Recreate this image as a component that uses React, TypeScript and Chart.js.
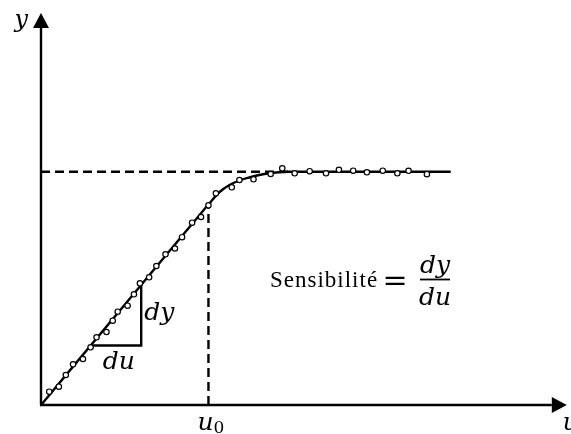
import { useEffect, useRef } from "react";
import { Chart, registerables } from "chart.js";

Chart.register(...registerables);

const WIDTH = 571;
const HEIGHT = 434;

// Measured samples of the output y against the input u
const sampleU = [0.83, 1.8, 2.5, 3.23, 4.23, 5.0, 5.6, 6.6, 7.23, 7.73, 8.73, 9.37, 9.97, 10.9, 11.63, 12.55, 13.5, 14.22, 15.23, 16.13, 16.88, 17.63, 19.23, 20.0, 21.42, 23.15, 24.32, 25.57, 27.08, 28.73, 30.03, 31.47, 32.85, 34.45, 35.92, 37.05, 38.9];
const sampleY = [1.33, 1.83, 3.0, 4.07, 4.6, 5.77, 6.77, 7.3, 8.43, 9.33, 9.93, 11.07, 12.17, 12.77, 13.9, 15.07, 15.65, 16.78, 18.23, 18.8, 19.97, 21.17, 21.77, 22.5, 22.57, 23.1, 23.67, 23.17, 23.38, 23.17, 23.52, 23.43, 23.27, 23.43, 23.17, 23.42, 23.08];

// Fitted characteristic: linear zone, then saturation
const curveU = [0, 8.5, 15.5, 17.0, 18.0, 19.0, 20.0, 21.0, 22.0, 23.0, 24.0, 25.0, 41.3];
const curveY = [0, 10.1, 18.42, 20.2, 21.3, 22.0, 22.45, 22.75, 23.0, 23.18, 23.28, 23.33, 23.33];

// Saturation level and operating point
const saturationY = 23.33;
const saturationEndU = 25;
const operatingU = [16.88, 16.88];
const operatingY = [0, 19.97];

// Slope triangle (du, dy)
const triangleU = [5.0, 10.1, 10.1];
const triangleY = [5.95, 5.95, 12.0];

// Axis extents
const uMax = 52.9;
const yMax = 39.2;

const mathFont = (size: number) => `italic ${size}px "DejaVu Serif"`;

const overlay = {
  id: "overlay",
  beforeDatasetsDraw(chart: any) {
    const { ctx, chartArea: a, scales } = chart;
    const ox = scales.x.getPixelForValue(0);
    const oy = scales.y.getPixelForValue(0);
    ctx.save();
    ctx.strokeStyle = "#000";
    ctx.fillStyle = "#000";
    ctx.lineWidth = 2.4;
    ctx.beginPath();
    ctx.moveTo(ox, oy);
    ctx.lineTo(ox, a.top + 14);
    ctx.moveTo(ox - 1, oy);
    ctx.lineTo(a.right - 14, oy);
    ctx.stroke();
    // arrow heads
    ctx.beginPath();
    ctx.moveTo(ox, a.top);
    ctx.lineTo(ox - 8, a.top + 15);
    ctx.lineTo(ox + 8, a.top + 15);
    ctx.closePath();
    ctx.fill();
    ctx.beginPath();
    ctx.moveTo(a.right + 1, oy);
    ctx.lineTo(a.right - 14, oy - 8);
    ctx.lineTo(a.right - 14, oy + 8);
    ctx.closePath();
    ctx.fill();
    ctx.restore();
  },
  afterDatasetsDraw(chart: any) {
    const { ctx, chartArea: a, scales } = chart;
    const xs = scales.x;
    const ys = scales.y;
    const ox = xs.getPixelForValue(0);
    const oy = ys.getPixelForValue(0);
    ctx.save();
    ctx.fillStyle = "#000";
    ctx.textBaseline = "alphabetic";

    // axis names (the u runs off the right edge)
    ctx.font = mathFont(24);
    ctx.textAlign = "right";
    ctx.fillText("y", ox - 13, a.top + 14);
    ctx.textAlign = "left";
    ctx.fillText("u", a.right - 3, oy + 25);

    // operating point label u0
    const u0x = xs.getPixelForValue(operatingU[0]);
    ctx.textAlign = "left";
    ctx.font = mathFont(25);
    ctx.fillText("u", u0x - 11, oy + 25);
    ctx.font = '17px "DejaVu Serif"';
    ctx.fillText("0", u0x + 5, oy + 28);

    // slope triangle labels
    const tx = xs.getPixelForValue(triangleU[1]);
    const tyTop = ys.getPixelForValue(triangleY[2]);
    const tyBase = ys.getPixelForValue(triangleY[0]);
    ctx.font = mathFont(25);
    ctx.fillText("dy", tx + 3, (tyTop + tyBase) / 2 + 5);
    ctx.textAlign = "center";
    ctx.fillText("du", (xs.getPixelForValue(triangleU[0]) + tx) / 2 + 3, tyBase + 23);

    // sensitivity definition
    ctx.textAlign = "left";
    ctx.font = '23px "Liberation Serif"';
    (ctx as any).letterSpacing = "1px";
    ctx.fillText("Sensibilité", 270, 287);
    (ctx as any).letterSpacing = "0px";
    ctx.font = '30px "DejaVu Serif"';
    ctx.textAlign = "center";
    ctx.fillText("=", 395, 290);
    ctx.font = mathFont(25);
    ctx.fillText("dy", 435, 273);
    ctx.fillText("du", 435, 305);
    ctx.lineWidth = 1.8;
    ctx.beginPath();
    ctx.moveTo(420, 279.5);
    ctx.lineTo(450, 279.5);
    ctx.stroke();
    ctx.restore();
  },
};

export default function App() {
  const canvasRef = useRef<HTMLCanvasElement>(null);

  useEffect(() => {
    const canvas = canvasRef.current;
    if (!canvas) return;
    const toXY = (us: number[], vs: number[]) => us.map((u, i) => ({ x: u, y: vs[i] }));
    const chart = new Chart(canvas, {
      type: "scatter",
      data: {
        datasets: [
          {
            type: "scatter",
            data: toXY(sampleU, sampleY),
            pointRadius: 2.7,
            pointBorderWidth: 1.2,
            pointBackgroundColor: "#fff",
            pointBorderColor: "#000",
            order: 0,
          },
          {
            type: "line",
            data: toXY(curveU, curveY),
            borderColor: "#000",
            borderWidth: 2.4,
            pointRadius: 0,
            cubicInterpolationMode: "monotone",
            fill: false,
            order: 1,
          },
          {
            type: "line",
            data: toXY([0, saturationEndU], [saturationY, saturationY]),
            borderColor: "#000",
            borderWidth: 2.4,
            borderDash: [9, 5],
            pointRadius: 0,
            fill: false,
            order: 2,
          },
          {
            type: "line",
            data: toXY(operatingU, operatingY),
            borderColor: "#000",
            borderWidth: 2.4,
            borderDash: [9, 5],
            pointRadius: 0,
            fill: false,
            order: 2,
          },
          {
            type: "line",
            data: toXY(triangleU, triangleY),
            borderColor: "#000",
            borderWidth: 2.4,
            pointRadius: 0,
            tension: 0,
            fill: false,
            order: 1,
          },
        ],
      },
      options: {
        animation: false,
        responsive: false,
        devicePixelRatio: 1,
        layout: { padding: { left: 41, right: 1, top: 13, bottom: 29 } },
        plugins: { legend: { display: false }, tooltip: { enabled: false } },
        events: [],
        scales: {
          x: { type: "linear", min: 0, max: uMax, display: false },
          y: { type: "linear", min: 0, max: yMax, display: false },
        },
      },
      plugins: [overlay],
    });
    return () => chart.destroy();
  }, []);

  return (
    <div style={{ position: "fixed", left: 0, top: 0, width: WIDTH, height: HEIGHT, background: "#fff" }}>
      <canvas ref={canvasRef} width={WIDTH} height={HEIGHT} />
    </div>
  );
}
